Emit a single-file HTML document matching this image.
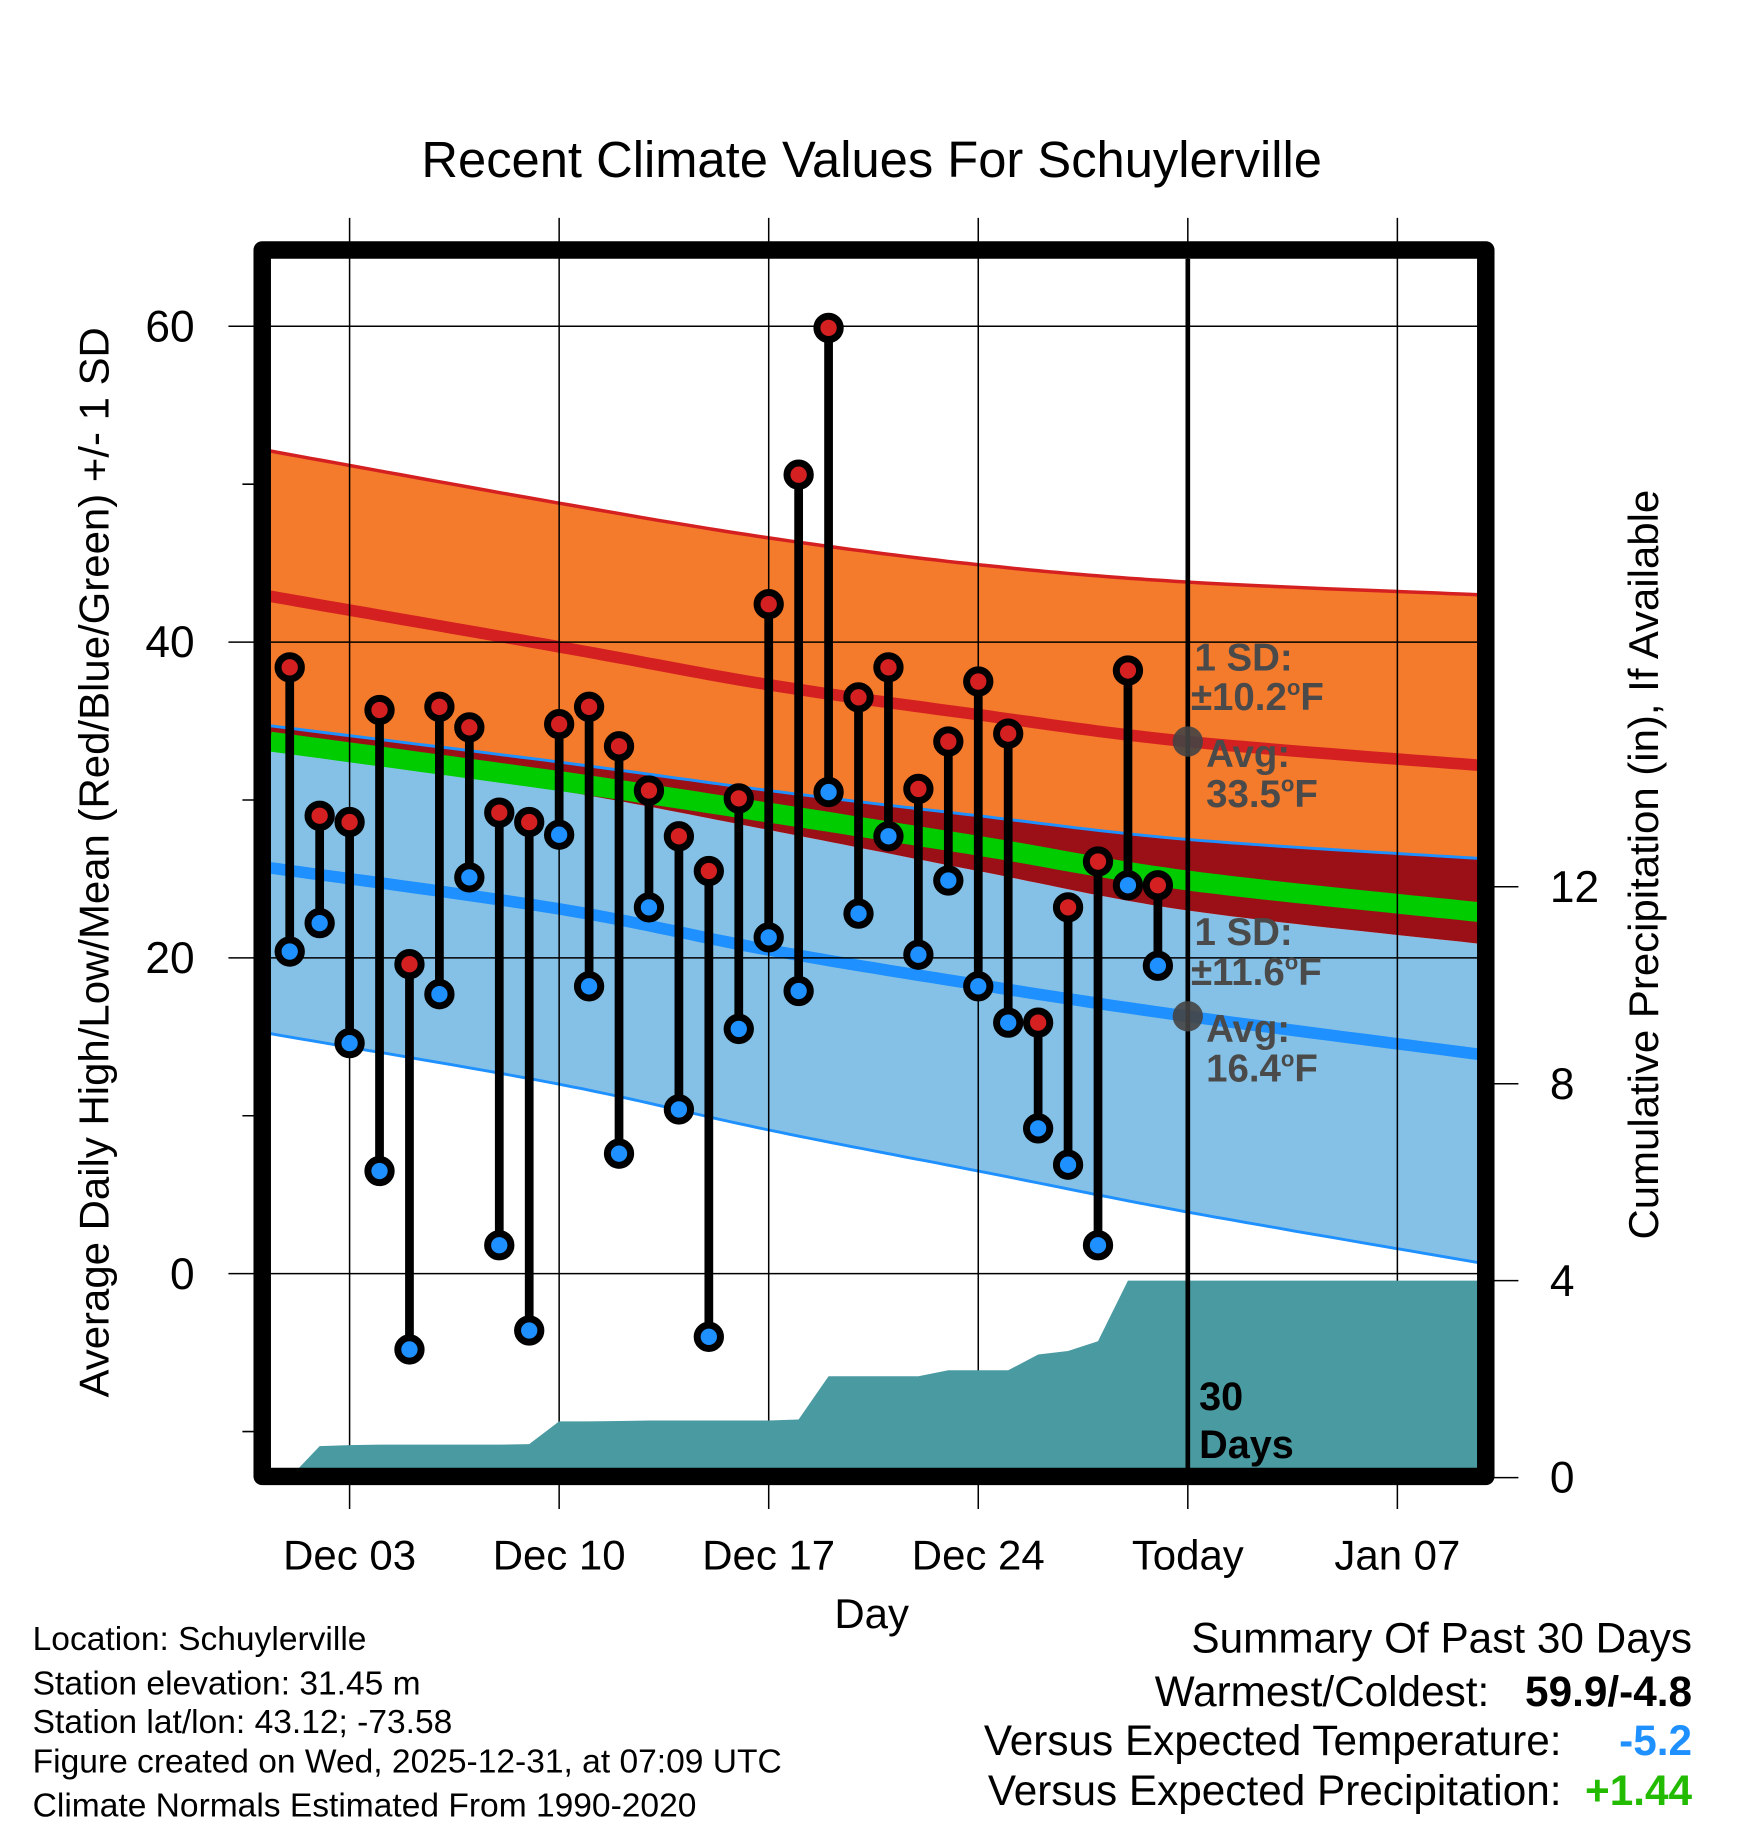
<!DOCTYPE html>
<html><head><meta charset="utf-8"><style>
html,body{margin:0;padding:0;background:#fff}
svg{display:block}
text{font-family:"Liberation Sans",sans-serif}
</style></head><body>
<svg id="chart" width="1748" height="1828" viewBox="0 0 1500 1568.7" xmlns="http://www.w3.org/2000/svg">
<g id="bands"></g>
<g id="grid"></g>
<g id="precip"></g>
<g id="obs"></g>
<g id="overlay"></g>
<text x="748" y="152" font-size="43.5" text-anchor="middle">Recent Climate Values For Schuylerville</text>
<text transform="translate(93,740) rotate(-90)" font-size="36" text-anchor="middle">Average Daily High/Low/Mean (Red/Blue/Green) +/- 1 SD</text>
<text transform="translate(1423,742) rotate(-90)" font-size="36" text-anchor="middle">Cumulative Precipitation (in), If Available</text>
<text x="748" y="1397" font-size="36" text-anchor="middle">Day</text>
<g font-size="28.8">
<text x="28" y="1416">Location: Schuylerville</text>
<text x="28" y="1454">Station elevation: 31.45 m</text>
<text x="28" y="1487">Station lat/lon: 43.12; -73.58</text>
<text x="28" y="1521">Figure created on Wed, 2025-12-31, at 07:09 UTC</text>
<text x="28" y="1559">Climate Normals Estimated From 1990-2020</text>
</g>
<g font-size="36.3">
<text x="1452" y="1418" text-anchor="end">Summary Of Past 30 Days</text>
<text x="1278" y="1464" text-anchor="end">Warmest/Coldest:</text>
<text x="1452" y="1464" text-anchor="end" font-weight="bold">59.9/-4.8</text>
<text x="1340" y="1506" text-anchor="end">Versus Expected Temperature:</text>
<text x="1452" y="1506" text-anchor="end" font-weight="bold" fill="#1e90ff">-5.2</text>
<text x="1340" y="1549" text-anchor="end">Versus Expected Precipitation:</text>
<text x="1452" y="1549" text-anchor="end" font-weight="bold" fill="#22bb00">+1.44</text>
</g>
</svg>
<script>
// ---- data ----
const xTickLabels = ["Dec 03","Dec 10","Dec 17","Dec 24","Today","Jan 07"];
const xTickDays = [2,9,16,23,30,37];
const yTicks = [0,20,40,60];
const yMinor = [-10,10,30,50];
const y2Ticks = [0,4,8,12];
const highs = [38.4,29.0,28.6,35.7,19.6,35.9,34.6,29.2,28.6,34.8,35.9,33.4,30.6,27.7,25.5,30.1,42.4,50.6,59.9,36.5,38.4,30.7,33.7,37.5,34.2,15.9,23.2,26.1,38.2,24.6];
const lows = [20.4,22.2,14.6,6.5,-4.8,17.7,25.1,1.8,-3.6,27.8,18.2,7.6,23.2,10.4,-4.0,15.5,21.3,17.9,30.5,22.8,27.7,20.2,24.9,18.2,15.9,9.2,6.9,1.8,24.6,19.5];
const precipCum = [0,0.64,0.66,0.67,0.67,0.67,0.67,0.67,0.68,1.14,1.14,1.15,1.16,1.16,1.16,1.16,1.16,1.18,2.06,2.06,2.06,2.06,2.18,2.18,2.18,2.5,2.57,2.77,4.0,4.0];
const climDays = [-0.65,9,16,23,30,39.7];
const normHighPlus = [52.1,48.8,46.6,44.9,43.8,43.0];
const normHigh = [42.9,39.7,37.3,35.4,33.7,32.2];
const normHighMinus = [34.7,32.4,30.6,29.0,27.5,26.3];
const normMean = [33.7,31.2,29.2,27.1,24.9,22.9];
const normLowPlus = [33.4,30.6,28.1,25.5,23.0,20.9];
const normLow = [25.7,23.1,20.5,18.3,16.3,13.9];
const normLowMinus = [15.2,12.0,9.1,6.5,3.9,0.7];

// ---- scales ----
const X0=232,X1=1268,Y0=222,Y1=1260;
const x = d => 248.6 + d*25.69;
const y = v => 1093 - v*13.55;
const y2 = v => 1268 - v*42.25;
const NS="http://www.w3.org/2000/svg";
function mk(tag, attrs, parent){const e=document.createElementNS(NS,tag);for(const k in attrs)e.setAttribute(k,attrs[k]);parent.appendChild(e);return e;}
function curve(vals){
  const pts=[];const n=climDays.length;
  for(let i=0;i<n-1;i++){
    const p0=i>0?i-1:i,p3=i+2<n?i+2:i+1;
    for(let s=0;s<20;s++){const t=s/20;
      const cr=(a,b,c,d)=>0.5*((2*b)+(-a+c)*t+(2*a-5*b+4*c-d)*t*t+(-a+3*b-3*c+d)*t*t*t);
      pts.push([x(cr(climDays[p0],climDays[i],climDays[i+1],climDays[p3])),y(cr(vals[p0],vals[i],vals[i+1],vals[p3]))]);}
  }
  pts.push([x(climDays[n-1]),y(vals[n-1])]);return pts;
}
const P=a=>a.map(p=>p[0].toFixed(1)+","+p[1].toFixed(1)).join(" ");
const svg=document.getElementById('chart');
const defs=mk('defs',{},svg);
const cp=mk('clipPath',{id:'plotclip'},defs);
mk('rect',{x:X0,y:Y0,width:X1-X0,height:Y1-Y0},cp);
const bands=document.getElementById('bands');bands.setAttribute('clip-path','url(#plotclip)');
function band(top,bot,fill,name){const e=mk('polygon',{points:P(curve(top).concat(curve(bot).reverse())),fill:fill},bands);

}
function line(vals,color,w,name){const e=mk('polyline',{points:P(curve(vals)),fill:'none',stroke:color,'stroke-width':w},bands);

}
band(normLowPlus,normLowMinus,'#85c1e6','low-sd-band');
band(normHighMinus,normLowPlus,'#9a1016','overlap-band');
band(normHighPlus,normHighMinus,'#f47a2c','high-sd-band');
line(normHighPlus,'#d42020',3,'high-plus-sd-line');
line(normHigh,'#d42020',10,'normal-high-line');
line(normMean,'#00cc00',17,'normal-mean-line');
line(normHighMinus,'#1e90ff',2.5,'high-minus-sd-line');
line(normLowMinus,'#1e90ff',2.5,'low-minus-sd-line');
line(normLow,'#1e90ff',10,'normal-low-line');

// grid & ticks
const grid=document.getElementById('grid');
yTicks.forEach(v=>{
  const g=mk('line',{x1:196,x2:X1,y1:y(v),y2:y(v),stroke:'#000','stroke-width':1.3},grid);
  
  
  const t=mk('text',{x:167,y:y(v)+13,'font-size':38,'text-anchor':'end'},grid);t.textContent=v;
  
  
});
yMinor.forEach(v=>{const g=mk('line',{x1:208,x2:225,y1:y(v),y2:y(v),stroke:'#000','stroke-width':1.3},grid);
  
  });
xTickDays.forEach((d,i)=>{
  const g=mk('line',{x1:x(d),x2:x(d),y1:187,y2:1295,stroke:'#000','stroke-width':1.3},grid);
  
  
  const t=mk('text',{x:x(d),y:1347,'font-size':36,'text-anchor':'middle'},grid);t.textContent=xTickLabels[i];
  
  
});
y2Ticks.forEach(v=>{
  const g=mk('line',{x1:1275,x2:1303,y1:y2(v),y2:y2(v),stroke:'#000','stroke-width':1.3},grid);
  
  
  const t=mk('text',{x:1330,y:y2(v)+13,'font-size':38},grid);t.textContent=v;
  
  
});

// precip
const pg=document.getElementById('precip');pg.setAttribute('clip-path','url(#plotclip)');
const pp=precipCum.map((v,i)=>[x(i),y2(v)]);
pp.push([X1+5,y2(precipCum[precipCum.length-1])]);pp.push([X1+5,1300]);pp.push([x(0),1300]);
const pe=mk('polygon',{points:P(pp),fill:'#4a9aa2'},pg);



// observations
const og=document.getElementById('obs');
highs.forEach((h,i)=>{
  const s=mk('line',{x1:x(i),x2:x(i),y1:y(h),y2:y(lows[i]),stroke:'#000','stroke-width':7.5},og);
  
  
});
highs.forEach((h,i)=>{
  const a=mk('circle',{cx:x(i),cy:y(h),r:10,fill:'#d42020',stroke:'#000','stroke-width':6},og);
  
  
  const b=mk('circle',{cx:x(i),cy:y(lows[i]),r:10,fill:'#1e90ff',stroke:'#000','stroke-width':6},og);
  
  
});

// overlay
const ov=document.getElementById('overlay');
const tl=mk('line',{x1:x(30),x2:x(30),y1:Y0,y2:Y1,stroke:'#000','stroke-width':4},ov);


function txt(s,xx,yy,fill,name,fs){const t=mk('text',{x:xx,y:yy,'font-size':fs||33,'font-weight':'bold',fill:fill},ov);t.innerHTML=s;

return t;}
[[normHigh,'10.2','33.5',0],[normLow,'11.6','16.4',1]].forEach(([arr,sd,avg,k])=>{
  const vy=y(arr[4]);
  const d=mk('circle',{cx:x(30),cy:vy,r:13,fill:'#444','fill-opacity':0.9},ov);
  
  
  txt('1 SD:',1025,vy-61,'#4a4a4a','sd-label');
  txt('±'+sd+'<tspan font-size="19" dy="-13">o</tspan><tspan dy="13">F</tspan>',1022,vy-27,'#4a4a4a','sd-value');
  txt('Avg:',1035,vy+22,'#4a4a4a','avg-label');
  txt(avg+'<tspan font-size="19" dy="-13">o</tspan><tspan dy="13">F</tspan>',1035,vy+56,'#4a4a4a','avg-value');
});
txt('30',1029,1210,'#000','days-count',34);
txt('Days',1029,1251,'#000','days-label',34);
const fr=mk('rect',{x:225,y:214.5,width:1050,height:1052.5,fill:'none',stroke:'#000','stroke-width':15,'stroke-linejoin':'round'},ov);


</script>
</body></html>
